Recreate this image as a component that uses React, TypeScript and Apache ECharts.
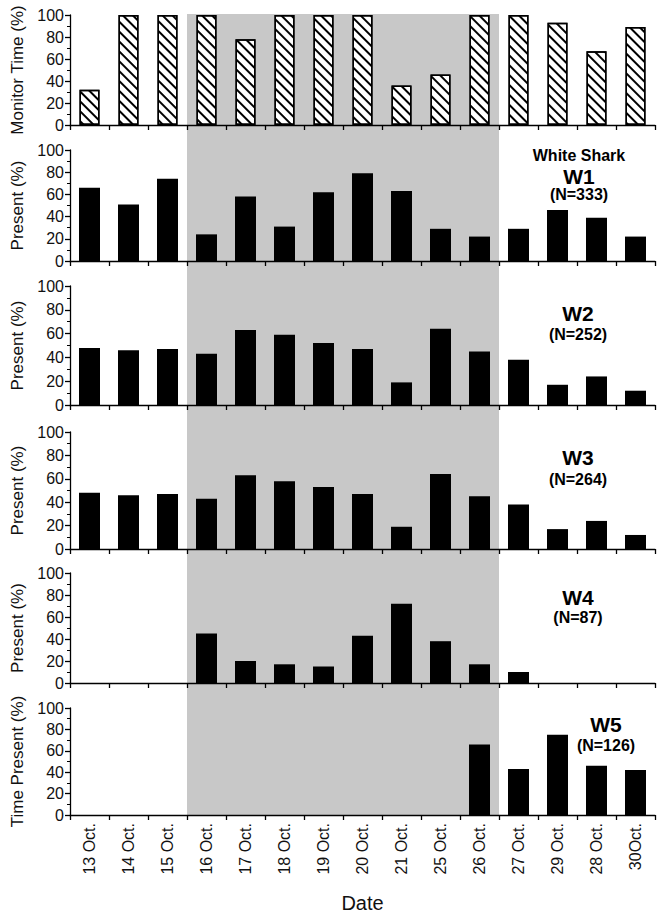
import React, { useEffect, useRef } from "react";
import * as echarts from "echarts";

const categories = ["13 Oct.", "14 Oct.", "15 Oct.", "16 Oct.", "17 Oct.", "18 Oct.", "19 Oct.", "20 Oct.", "21 Oct.", "25 Oct.", "26 Oct.", "27 Oct.", "29 Oct.", "28 Oct.", "30Oct."];
const monitorTime = [32, 100, 100, 100, 78, 100, 100, 100, 36, 46, 100, 100, 93, 67, 89];
const w1 = [66, 51, 74, 24, 58, 31, 62, 79, 63, 29, 22, 29, 46, 39, 22];
const w2 = [48, 46, 47, 43, 63, 59, 52, 47, 19, 64, 45, 38, 17, 24, 12];
const w3 = [48, 46, 47, 43, 63, 58, 53, 47, 19, 64, 45, 38, 17, 24, 12];
const w4 = [0, 0, 0, 45, 20, 17, 15, 43, 72, 38, 17, 10, 0, 0, 0];
const w5 = [0, 0, 0, 0, 0, 0, 0, 0, 0, 0, 66, 43, 75, 46, 42];
const yMin = 0;
const yMax = 100;
const yInterval = 20;
const shadedFrom = "16 Oct.";
const shadedTo = "26 Oct.";
const yNames = ["Monitor Time (%)", "Present (%)", "Present (%)", "Present (%)", "Present (%)", "Time Present (%)"];
const sharkLabels = [
  { lines: ["White Shark", "W1", "(N=333)"] },
  { lines: ["W2", "(N=252)"] },
  { lines: ["W3", "(N=264)"] },
  { lines: ["W4", "(N=87)"] },
  { lines: ["W5", "(N=126)"] },
];

const FONT = "Liberation Sans, Arial, Helvetica, sans-serif";

const gridLayout = [
  { top: 15, height: 110 },
  { top: 150, height: 111 },
  { top: 286, height: 119 },
  { top: 432, height: 117 },
  { top: 573, height: 110 },
  { top: 708, height: 109 },
];
const nameGaps = [40, 35, 35, 35, 35, 40];

export default function App() {
  const ref = useRef<HTMLDivElement>(null);
  useEffect(() => {
    if (!ref.current) return;
    const chart = echarts.init(ref.current, null, { renderer: "svg" });
    const seriesData = [monitorTime, w1, w2, w3, w4, w5];
    const grids = gridLayout.map((g) => ({ left: 70, width: 585, top: g.top, height: g.height, containLabel: false }));
    const xAxes = gridLayout.map((_, i) => ({
      type: "category",
      gridIndex: i,
      data: categories,
      boundaryGap: true,
      axisLine: { show: true, lineStyle: { color: "#000", width: 1.3 } },
      axisTick: { show: true, inside: false, length: 5, interval: 0, lineStyle: { color: "#000", width: 1.3 } },
      axisLabel: {
        show: i === 5,
        interval: 0,
        rotate: 90,
        margin: 8,
        fontSize: 16,
        color: "#111",
        fontFamily: FONT,
      },
      name: i === 5 ? "Date" : "",
      nameLocation: "middle",
      nameGap: 78,
      nameTextStyle: { fontSize: 20, color: "#111", fontFamily: FONT },
      splitLine: { show: false },
    }));
    const yAxes = gridLayout.map((_, i) => ({
      type: "value",
      gridIndex: i,
      min: yMin,
      max: yMax,
      interval: yInterval,
      name: yNames[i],
      nameLocation: "middle",
      nameRotate: 90,
      nameGap: nameGaps[i],
      nameTextStyle: { fontSize: 17, color: "#111", fontFamily: FONT },
      axisLine: { show: true, lineStyle: { color: "#000", width: 1.3 } },
      axisTick: { show: true, inside: false, length: 5, lineStyle: { color: "#000", width: 1.3 } },
      minorTick: { show: true, splitNumber: 2, length: 3, lineStyle: { color: "#000", width: 1 } },
      axisLabel: { fontSize: 16, color: "#111", fontFamily: FONT, margin: 6 },
      splitLine: { show: false },
    }));
    const series = seriesData.map((d, i) => ({
      type: "bar",
      xAxisIndex: i,
      yAxisIndex: i,
      data: d,
      barWidth: i === 0 ? 20 : 21,
      z: 3,
      itemStyle:
        i === 0
          ? {
              color: "#fff",
              borderColor: "#000",
              borderWidth: 1.5,
              decal: {
                symbol: "rect",
                symbolSize: 1,
                dashArrayX: [1, 0],
                dashArrayY: [1.5, 4.5],
                rotation: Math.PI / 4,
                color: "#000",
              },
            }
          : { color: "#000" },
    }));
    chart.setOption({
      animation: false,
      backgroundColor: "#fff",
      grid: grids,
      xAxis: xAxes,
      yAxis: yAxes,
      series,
    });

    // shaded period computed from the axes
    const i0 = categories.indexOf(shadedFrom);
    const i1 = categories.indexOf(shadedTo);
    const p0 = chart.convertToPixel({ xAxisIndex: 0 }, i0) as number;
    const p1 = chart.convertToPixel({ xAxisIndex: 0 }, i0 + 1) as number;
    const band = p1 - p0;
    const pEnd = chart.convertToPixel({ xAxisIndex: 0 }, i1) as number;
    const xLeft = p0 - band / 2;
    const xRight = pEnd + band / 2;
    const yTop = chart.convertToPixel({ yAxisIndex: 0 }, yMax) as number;
    const yBottom = chart.convertToPixel({ yAxisIndex: 5 }, yMin) as number;

    const labelEls: any[] = [];
    const labelPos = [
      { x: 579, ys: [155, 176, 194] },
      { x: 578, ys: [313, 334] },
      { x: 578, ys: [457, 479] },
      { x: 578, ys: [597, 617] },
      { x: 606, ys: [724, 745] },
    ];
    sharkLabels.forEach((l, k) => {
      l.lines.forEach((t, j) => {
        const isW = /^W\d$/.test(t);
        labelEls.push({
          type: "text",
          x: labelPos[k].x,
          y: labelPos[k].ys[j],
          z: 100,
          style: {
            text: t,
            fontSize: isW ? 21 : 16,
            fontWeight: "bold",
            fontFamily: FONT,
            fill: "#000",
            align: "center",
            verticalAlign: "middle",
          },
        });
      });
    });

    chart.setOption({
      graphic: [
        {
          type: "rect",
          z: -100,
          shape: { x: xLeft, y: yTop - 1, width: xRight - xLeft, height: yBottom - yTop + 1 },
          style: { fill: "#c8c8c8" },
          silent: true,
        },
        ...labelEls,
      ],
    });

    return () => chart.dispose();
  }, []);
  return <div ref={ref} style={{ position: "fixed", left: 0, top: 0, width: 660, height: 914 }} />;
}
